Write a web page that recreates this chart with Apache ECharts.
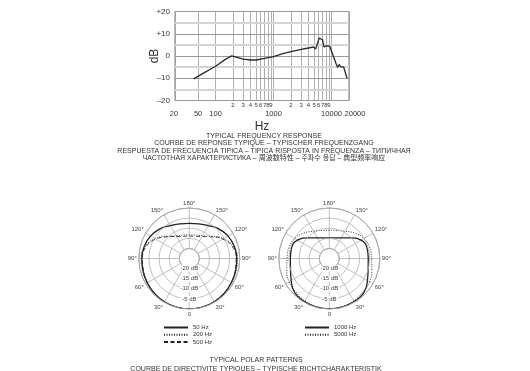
<!DOCTYPE html>
<html>
<head>
<meta charset="utf-8">
<style>
  html, body { margin: 0; padding: 0; background: #fff; }
  #chart { width: 530px; height: 371px; }
</style>
<script src="https://cdn.jsdelivr.net/npm/echarts@6/dist/echarts.min.js"></script>
</head>
<body>
<div id="chart"></div>
<script>
// ---- Frequency response (Hz, dB) ----
const freqHz = [42, 60, 100, 150, 190, 250, 300, 400, 500, 700, 1000, 1500, 2000, 3000, 4000, 4860, 5340, 6100, 6510, 7000, 7380, 7990, 8500, 9300, 9950, 11900, 12700, 13550, 14500, 15500, 16150, 18500];
const responseDb = [-10.3, -7.9, -4.6, -1.4, 0.1, -0.8, -1.4, -1.8, -1.8, -1.1, -0.3, 1.2, 2.0, 3.0, 3.6, 4.0, 3.2, 8.0, 8.5, 7.3, 4.1, 4.5, 3.9, 4.4, 3.8, -3.3, -5.1, -3.8, -4.9, -4.1, -4.9, -10.0];

// Frequency grid lines and their labels
const majorTicks = [20, 50, 100, 1000, 10000, 20000];
const minorTicks = [200, 300, 400, 500, 600, 700, 800, 900, 2000, 3000, 4000, 5000, 6000, 7000, 8000, 9000];
const lightRows = [-15, -5, 5, 15];

// ---- Polar patterns: level (dB) at each angle, symmetric about the 0°–180° axis ----
const polarAngles = [0, 15, 30, 45, 60, 75, 90, 105, 120, 135, 150, 165, 180];
const hz50   = [0, -0.1, -0.3, -0.6, -1.0, -1.3, -1.5, -1.9, -2.8, -4.3, -6.2, -7.2, -7.6];
const hz200  = [0, -0.1, -0.3, -0.6, -0.9, -1.1, -1.2, -2.4, -5.4, -9.4, -12.0, -13.0, -13.3];
const hz500  = [0, -0.1, -0.3, -0.7, -1.1, -1.5, -1.8, -2.8, -5.8, -9.8, -12.4, -13.6, -13.9];
const hz1000 = [0, -0.2, -0.4, -0.9, -3.2, -5.1, -5.7, -5.6, -6.8, -10.5, -13.2, -14.4, -14.8];
const hz5000 = [0, -0.3, -0.8, -1.6, -2.0, -3.2, -4.1, -4.3, -5.2, -7.2, -9.4, -10.6, -11.0];

const FONT = "'Liberation Sans', Arial, 'Noto Sans CJK JP', sans-serif";
const INK = '#333';

// mirror a half pattern (0..180) onto the full circle as [radius, angle] pairs
function fullPattern(levels) {
  const pts = polarAngles.map((a, i) => [levels[i], a]);
  for (let i = polarAngles.length - 2; i >= 0; i--) {
    pts.push([levels[i], 360 - polarAngles[i]]);
  }
  return pts;
}

const chart = echarts.init(document.getElementById('chart'), null, { renderer: 'canvas' });

const gridLines = majorTicks.map(v => ({
  xAxis: v,
  label: {
    show: true, position: 'start', distance: 10, formatter: String(v), fontSize: 7.5, color: INK, fontFamily: FONT,
    offset: v === 20000 ? [6, 0] : (v === 20 ? [-1, 0] : [0, 0])
  }
})).concat(minorTicks.map(v => ({
  xAxis: v,
  label: { show: true, position: 'start', distance: 2, formatter: String(v / Math.pow(10, Math.floor(Math.log10(v)))), fontSize: 6, color: INK, fontFamily: FONT }
}))).concat(lightRows.map(v => ({
  yAxis: v,
  lineStyle: { color: '#d4d4d4', width: 2 },
  label: { show: false }
})));

function angleLabel(v) {
  if (v === 360) return '';
  const d = v > 180 ? 360 - v : v;
  return d === 0 ? '0' : d + '°';
}

function polarAxes(idx) {
  return {
    angle: {
      polarIndex: idx, type: 'value', min: 0, max: 360, interval: 30,
      startAngle: 270, clockwise: true,
      axisLine: { lineStyle: { color: '#9a9a9a', width: 1 } },
      axisTick: { show: false },
      splitLine: { show: true, lineStyle: { color: '#b0b0b0', width: 0.8 } },
      axisLabel: { formatter: angleLabel, fontSize: 6, color: '#444', margin: 2, fontFamily: FONT }
    },
    radius: {
      polarIndex: idx, type: 'value', min: -20, max: 0, interval: 5,
      axisLine: { show: false }, axisTick: { show: false },
      splitLine: { show: true, lineStyle: { color: '#b0b0b0', width: 0.8 } },
      axisLabel: {
        formatter: v => (v === 0 ? '' : v + ' dB'), fontSize: 6, color: '#444', margin: 0,
        align: 'center', verticalAlign: 'middle', backgroundColor: '#fff', padding: [0, 1], fontFamily: FONT
      },
      z: 5
    }
  };
}
const p0 = polarAxes(0), p1 = polarAxes(1);

function polarSeries(name, idx, levels, type, width) {
  return {
    name, type: 'line', coordinateSystem: 'polar', polarIndex: idx,
    data: fullPattern(levels), smooth: true, symbol: 'none',
    itemStyle: { color: '#222' },
    lineStyle: { color: '#222', width, type }, z: 3
  };
}

const legendBase = {
  orient: 'vertical', padding: 0, itemWidth: 24, itemHeight: 5, itemGap: 1.3, selectedMode: false,
  itemStyle: { opacity: 0 },
  textStyle: { fontSize: 6, color: INK, fontFamily: FONT, lineHeight: 5.5 }
};

chart.setOption({
  animation: false,
  textStyle: { fontFamily: FONT },
  grid: { left: 175, top: 11.5, width: 174, height: 89, show: true, borderColor: '#7a7a7a', borderWidth: 1, containLabel: false },
  xAxis: {
    type: 'log', logBase: 10, min: 20, max: 20000,
    name: 'Hz', nameLocation: 'middle', nameGap: 20, nameMoveOverlap: false,
    nameTextStyle: { fontSize: 12, color: INK, fontFamily: FONT },
    axisLine: { show: false }, axisTick: { show: false }, axisLabel: { show: false }, splitLine: { show: false }
  },
  yAxis: {
    type: 'value', min: -20, max: 20, interval: 10,
    name: 'dB', nameLocation: 'middle', nameGap: 14, nameMoveOverlap: false,
    nameTextStyle: { fontSize: 12, color: INK, fontFamily: FONT },
    axisLine: { show: false }, axisTick: { show: false },
    axisLabel: { fontSize: 8, color: INK, margin: 5, fontFamily: FONT, formatter: v => (v > 0 ? '+' + v : v < 0 ? '–' + Math.abs(v) : '0') },
    splitLine: { show: true, lineStyle: { color: '#9a9a9a', width: 1 } }
  },
  polar: [
    { center: [189.3, 258.5], radius: [10, 50.5] },
    { center: [329.3, 258.5], radius: [10, 50.5] }
  ],
  angleAxis: [p0.angle, p1.angle],
  radiusAxis: [p0.radius, p1.radius],
  legend: [
    Object.assign({ data: ['50 Hz', '200 Hz', '500 Hz'], left: 163, top: 324.5 }, legendBase),
    Object.assign({ data: ['1000 Hz', '5000 Hz'], left: 304, top: 324.5 }, legendBase)
  ],
  series: [
    {
      // frequency grid, kept beneath the response curve
      name: 'grid', type: 'line', data: [], z: 1, silent: true,
      markLine: {
        silent: true, symbol: ['none', 'none'], animation: false, z: 1,
        lineStyle: { color: '#9a9a9a', width: 0.8, type: 'solid' },
        data: gridLines
      }
    },
    {
      name: 'Response', type: 'line', data: freqHz.map((f, i) => [f, responseDb[i]]),
      symbol: 'none', lineStyle: { color: '#2a2a2a', width: 1.3 }, z: 6
    },
    polarSeries('50 Hz', 0, hz50, 'solid', 1.3),
    polarSeries('200 Hz', 0, hz200, [1, 1.5], 0.9),
    polarSeries('500 Hz', 0, hz500, [4, 2.5], 0.9),
    polarSeries('1000 Hz', 1, hz1000, 'solid', 1.3),
    polarSeries('5000 Hz', 1, hz5000, [1, 1.5], 0.9)
  ],
  graphic: [
    { type: 'text', x: 264, y: 136, style: { text: 'TYPICAL FREQUENCY RESPONSE', align: 'center', verticalAlign: 'middle', textAlign: 'center', textVerticalAlign: 'middle', fontSize: 7, fontFamily: FONT, fill: INK } },
    { type: 'text', x: 264, y: 143.3, style: { text: 'COURBE DE REPONSE TYPIQUE – TYPISCHER FREQUENZGANG', align: 'center', verticalAlign: 'middle', textAlign: 'center', textVerticalAlign: 'middle', fontSize: 7, fontFamily: FONT, fill: INK } },
    { type: 'text', x: 264, y: 150.6, style: { text: 'RESPUESTA DE FRECUENCIA TIPICA – TIPICA RISPOSTA IN FREQUENZA – ТИПИЧНАЯ', align: 'center', verticalAlign: 'middle', textAlign: 'center', textVerticalAlign: 'middle', fontSize: 7, fontFamily: FONT, fill: INK } },
    { type: 'text', x: 264, y: 157.9, style: { text: 'ЧАСТОТНАЯ ХАРАКТЕРИСТИКА – 周波数特性 – 주파수 응답 – 典型频率响应', align: 'center', verticalAlign: 'middle', textAlign: 'center', textVerticalAlign: 'middle', fontSize: 7, fontFamily: FONT, fill: INK } },
    { type: 'text', x: 256, y: 360.3, style: { text: 'TYPICAL POLAR PATTERNS', align: 'center', verticalAlign: 'middle', textAlign: 'center', textVerticalAlign: 'middle', fontSize: 7, fontFamily: FONT, fill: INK } },
    { type: 'text', x: 256, y: 368.7, style: { text: 'COURBE DE DIRECTIVITE TYPIQUES – TYPISCHE RICHTCHARAKTERISTIK', align: 'center', verticalAlign: 'middle', textAlign: 'center', textVerticalAlign: 'middle', fontSize: 7, fontFamily: FONT, fill: INK } }
  ]
});
</script>
</body>
</html>
